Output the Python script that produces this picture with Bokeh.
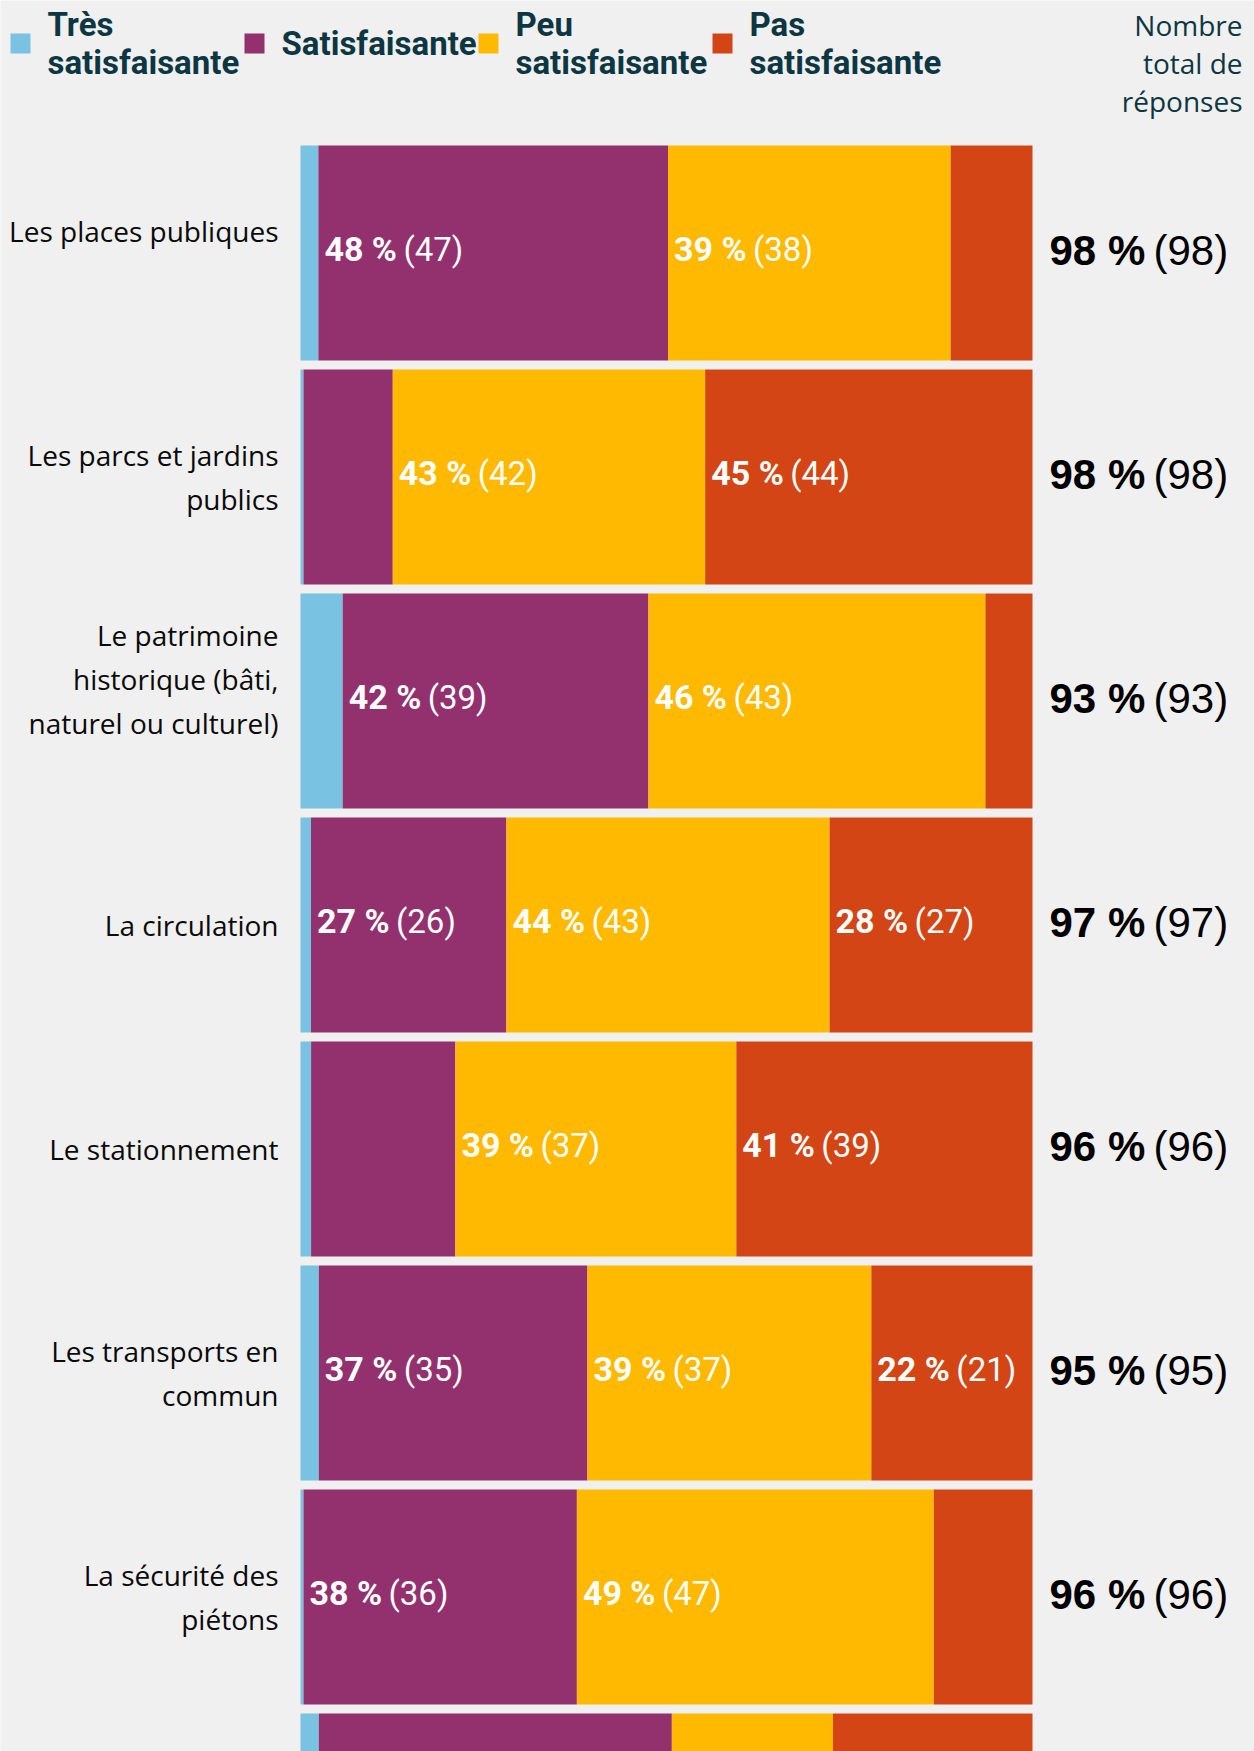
from bokeh.plotting import figure
from bokeh.models import ColumnDataSource, Range1d
from bokeh.embed import file_html
from bokeh.resources import INLINE
from bokeh.core.properties import value

# ---------------- data ----------------
categories = [
    "Les places publiques\n",
    "Les parcs et jardins\npublics",
    "Le patrimoine\nhistorique (bâti,\nnaturel ou culturel)\n",
    "La circulation",
    "Le stationnement",
    "Les transports en\ncommun",
    "La sécurité des\npiétons",
    "",
]
series = ["Très\nsatisfaisante", "Satisfaisante", "Peu\nsatisfaisante", "Pas\nsatisfaisante"]
tres = [2, 0, 5, 1, 1, 2, 0, 2]
satisfaisante = [47, 12, 39, 26, 19, 35, 36, 46]
peu = [38, 42, 43, 43, 37, 37, 47, 21]
pas = [11, 44, 6, 27, 39, 21, 13, 26]
totals = [98, 98, 93, 97, 96, 95, 96, 95]
respondents = 100
total_title = "Nombre\ntotal de\nréponses"

# ---------------- style / layout ----------------
colors = ["#7ac2e1", "#93306e", "#ffb900", "#d34515"]
BG = "#f0f0f0"
TEAL = "#0c3742"
W, H = 1254, 1751
X0, PX = 303.0, 7.29      # pixel of 0 %, pixels per %
Y0, PY = 252.5, 224.0     # pixel of first row centre, pixels per row
BAR_H = 215.0 / 224.0
STUB = 3.0 / PX
LABEL_MIN = 20.0


def X(fx):
    return (fx - X0) / PX


def Y(fy):
    return (fy - Y0) / PY


p = figure(width=W, height=H, output_backend="svg", toolbar_location=None,
           x_axis_location=None, y_axis_location=None,
           x_range=Range1d(X(0), X(W)), y_range=Range1d(Y(H), Y(0)),
           min_border=0, background_fill_color=BG, border_fill_color=BG)
p.outline_line_color = None
p.grid.visible = False

rows = list(range(len(categories)))
ymax = Y(H)
values = [tres, satisfaisante, peu, pas]

cum = [0.0] * len(rows)
lab_x, lab_y, lab_b, lab_r = [], [], [], []
for k, vals in enumerate(values):
    pct = [v / t * 100.0 for v, t in zip(vals, totals)]
    left = [c if k > 0 else -STUB for c in cum]
    right = [c + q for c, q in zip(cum, pct)]
    src = ColumnDataSource(dict(y=rows, left=left, right=right))
    p.hbar(y="y", left="left", right="right", height=BAR_H, source=src,
           fill_color=colors[k], line_color=None)
    for i in rows:
        if pct[i] >= LABEL_MIN and i < ymax:
            lab_x.append(cum[i])
            lab_y.append(i)
            lab_b.append(f"{int(pct[i] + 0.5)} %")
            lab_r.append(f"({vals[i]})")
    cum = right

lsrc = ColumnDataSource(dict(x=lab_x, y=lab_y, b=lab_b, r=lab_r))
p.text(x="x", y="y", text="b", source=lsrc, x_offset=6, y_offset=-4, text_align="left",
       text_baseline="middle", text_color="white", text_font=value("Roboto"),
       text_font_style="bold", text_font_size="34px")
p.text(x="x", y="y", text="r", source=lsrc, x_offset=85, y_offset=-4, text_align="left",
       text_baseline="middle", text_color="white", text_font=value("Roboto"),
       text_font_size="33px")

# category labels
vis = [i for i in rows if i < ymax]
csrc = ColumnDataSource(dict(x=[X(278)] * len(vis), y=vis, t=[categories[i] for i in vis]))
p.text(x="x", y="y", text="t", source=csrc, text_align="right", text_baseline="middle",
       text_color="#0a0a0a", text_font=value("Open Sans"), text_font_size="28px",
       text_line_height=1.157)

# totals column
tsrc = ColumnDataSource(dict(
    x=[100.0] * len(vis), y=vis,
    b=[f"{int(totals[i] / respondents * 100 + 0.5)} %" for i in vis],
    r=[f"({totals[i]})" for i in vis]))
p.text(x="x", y="y", text="b", source=tsrc, x_offset=17, y_offset=-3, text_align="left",
       text_baseline="middle", text_color="#000000", text_font=value("Liberation Sans"),
       text_font_style="bold", text_font_size="42px")
p.text(x="x", y="y", text="r", source=tsrc, x_offset=121, y_offset=-3, text_align="left",
       text_baseline="middle", text_color="#000000", text_font=value("Liberation Sans"),
       text_font_size="42px")

# legend
leg_sq = [10, 244, 478, 712]
p.rect(x=[X(fx + 10) for fx in leg_sq], y=[Y(43)] * 4, width=20, height=20,
       width_units="screen", height_units="screen", fill_color=colors, line_color=None)
p.text(x=[X(fx + 37) for fx in leg_sq], y=[Y(43)] * 4, text=series, text_align="left",
       text_baseline="middle", text_color=TEAL, text_font=value("Roboto"),
       text_font_style="bold", text_font_size="33px", text_line_height=0.96)
p.text(x=[X(1242)], y=[Y(62)], text=[total_title], text_align="right",
       text_baseline="middle", text_color=TEAL, text_font=value("Open Sans"),
       text_font_size="28px", text_line_height=1.0)

open("out.html", "w").write(file_html(p, INLINE, title="Satisfaction"))
